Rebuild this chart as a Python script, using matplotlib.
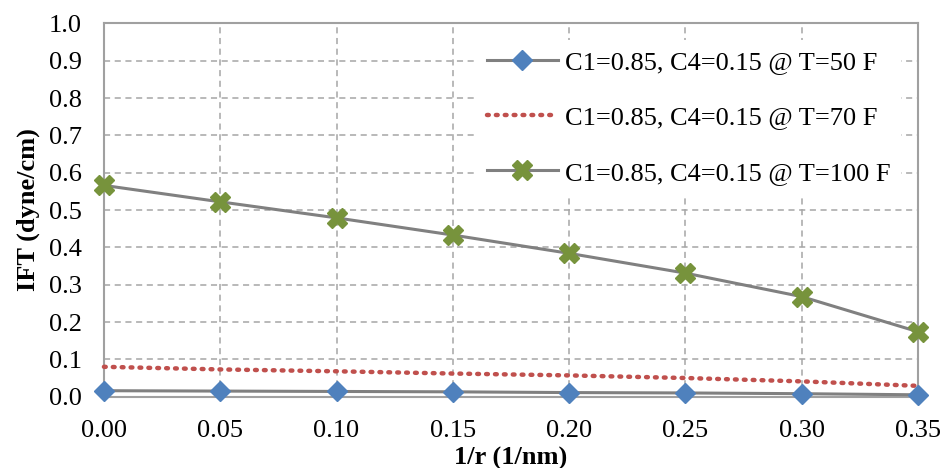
import matplotlib
matplotlib.use("Agg")
import matplotlib.pyplot as plt
from matplotlib.ticker import MultipleLocator, FormatStrFormatter

# Inverse pore radius (1/nm)
inv_r = [0.00, 0.05, 0.10, 0.15, 0.20, 0.25, 0.30, 0.35]

# Interfacial tension (dyne/cm) for C1=0.85, C4=0.15 at three temperatures
ift_50F = [0.016, 0.015, 0.014, 0.013, 0.011, 0.010, 0.008, 0.005]
ift_70F = [0.080, 0.073, 0.068, 0.062, 0.057, 0.050, 0.041, 0.029]
ift_100F = [0.566, 0.522, 0.479, 0.433, 0.384, 0.331, 0.268, 0.174]

labels = [
    "C1=0.85, C4=0.15 @ T=50 F",
    "C1=0.85, C4=0.15 @ T=70 F",
    "C1=0.85, C4=0.15 @ T=100 F",
]

plt.rcParams["font.family"] = ["Liberation Serif", "DejaVu Serif"]

fig = plt.figure(figsize=(9.45, 4.68), dpi=100)
ax = fig.add_axes([0.110, 0.1524, 0.8614, 0.7976])

gray = "#808080"
ax.plot(inv_r, ift_50F, color=gray, lw=2.2, marker="D", markersize=10,
        markerfacecolor="#4F81BD", markeredgecolor="#4F81BD", label=labels[0],
        zorder=4, clip_on=False)
ax.plot(inv_r, ift_70F, color="#C0504D", lw=3.2, linestyle=(0, (0.4, 1.6)),
        dash_capstyle="round", label=labels[1], zorder=3, clip_on=False)
ax.plot(inv_r, ift_100F, color=gray, lw=2.2, marker="X", markersize=14,
        markerfacecolor="#77933C", markeredgecolor="#77933C", label=labels[2],
        zorder=4, clip_on=False)

ax.set_xlim(0, 0.35)
ax.set_ylim(0, 1.0)
ax.xaxis.set_major_locator(MultipleLocator(0.05))
ax.yaxis.set_major_locator(MultipleLocator(0.1))
ax.xaxis.set_major_formatter(FormatStrFormatter("%.2f"))
ax.yaxis.set_major_formatter(FormatStrFormatter("%.1f"))

ax.grid(True, color="#A6A6A6", linestyle=(0, (4, 3)), linewidth=1.1)
ax.set_axisbelow(True)
for side in ["left", "right", "top", "bottom"]:
    ax.spines[side].set_color("#A0A0A0")
    ax.spines[side].set_linewidth(1.5)

ax.tick_params(axis="both", length=0, labelsize=19, colors="black")
ax.tick_params(axis="y", pad=16)
ax.tick_params(axis="x", pad=17)

ax.set_xlabel("1/r (1/nm)", fontsize=19, fontweight="bold", labelpad=3)
ax.set_ylabel("IFT (dyne/cm)", fontsize=19, fontweight="bold", labelpad=6)

leg = ax.legend(loc="upper right", bbox_to_anchor=(0.995, 0.99), fontsize=19,
                frameon=True, fancybox=False, framealpha=1.0,
                edgecolor="none", facecolor="white",
                handlelength=2.7, handletextpad=0.25, labelspacing=1.2,
                borderpad=0.4)

fig.savefig("out.png", dpi=100)
